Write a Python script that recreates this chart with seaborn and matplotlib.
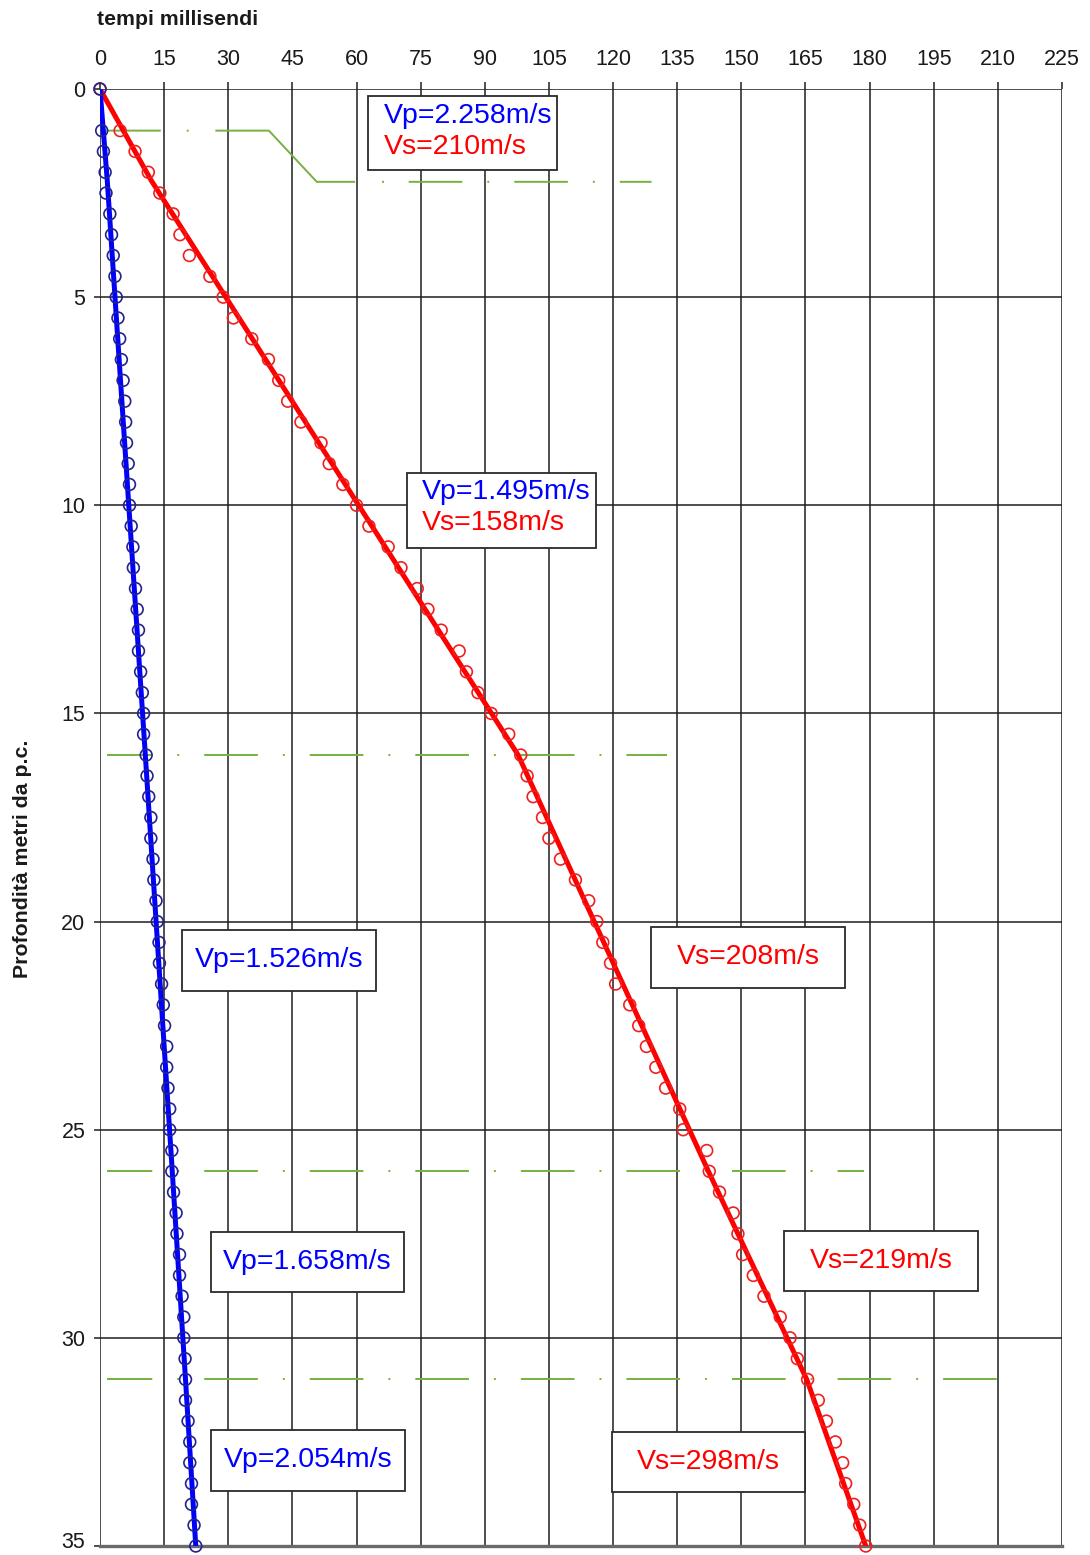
import matplotlib
matplotlib.use("Agg")
import matplotlib.pyplot as plt
from matplotlib.patches import Rectangle
from matplotlib.transforms import ScaledTranslation
import pandas as pd
import seaborn as sns

# ---- measured first-arrival times (down-hole test) ----
depth_m = [0.0, 1.0, 1.5, 2.0, 2.5, 3.0, 3.5, 4.0, 4.5, 5.0, 5.5, 6.0, 6.5, 7.0,
           7.5, 8.0, 8.5, 9.0, 9.5, 10.0, 10.5, 11.0, 11.5, 12.0, 12.5, 13.0,
           13.5, 14.0, 14.5, 15.0, 15.5, 16.0, 16.5, 17.0, 17.5, 18.0, 18.5,
           19.0, 19.5, 20.0, 20.5, 21.0, 21.5, 22.0, 22.5, 23.0, 23.5, 24.0,
           24.5, 25.0, 25.5, 26.0, 26.5, 27.0, 27.5, 28.0, 28.5, 29.0, 29.5,
           30.0, 30.5, 31.0, 31.5, 32.0, 32.5, 33.0, 33.5, 34.0, 34.5, 35.0]

t_p_ms = [0.0, 0.4, 0.8, 1.2, 1.4, 2.3, 2.7, 3.1, 3.5, 3.8, 4.2, 4.6, 5.0, 5.4,
          5.8, 6.0, 6.2, 6.6, 6.9, 6.9, 7.3, 7.7, 7.8, 8.3, 8.7, 9.0, 9.0, 9.5,
          9.9, 10.2, 10.2, 10.8, 11.0, 11.4, 11.9, 11.9, 12.4, 12.6, 13.1,
          13.4, 13.8, 13.9, 14.4, 14.8, 15.1, 15.6, 15.6, 15.9, 16.3, 16.3,
          16.8, 16.8, 17.2, 17.8, 18.0, 18.6, 18.6, 19.2, 19.6, 19.6, 19.9,
          20.0, 20.0, 20.6, 21.0, 21.0, 21.4, 21.4, 22.0, 22.4]

t_s_ms = [0.0, 4.7, 8.2, 11.3, 14.0, 17.1, 18.7, 20.9, 25.7, 28.8, 31.2, 35.5,
          39.4, 41.8, 43.9, 47.0, 51.7, 53.6, 56.8, 60.0, 62.9, 67.4, 70.4,
          74.2, 76.7, 79.8, 84.0, 85.7, 88.4, 91.5, 95.6, 98.4, 99.9, 101.3,
          103.5, 105.0, 107.7, 111.2, 114.3, 116.2, 117.6, 119.4, 120.6, 123.9,
          126.0, 127.8, 130.0, 132.3, 135.6, 136.4, 141.9, 142.5, 144.9, 148.1,
          149.2, 150.3, 152.8, 155.3, 159.1, 161.4, 163.1, 165.5, 168.0, 169.9,
          172.0, 173.7, 174.4, 176.3, 177.7, 179.1]

# ---- layered model: interpreted travel-time curves ----
layer_bounds_m = [0.0, 2.2, 16.0, 26.0, 31.0, 35.0]
fit_tp_ms = [0.0, 1.7, 10.6, 16.9, 20.0, 22.4]
fit_ts_ms = [0.0, 12.0, 97.8, 142.3, 165.3, 179.1]
vp_m_s = [2258, 1495, 1526, 1658, 2054]
vs_m_s = [210, 158, 208, 219, 298]

# interpreted layer boundaries (time extent, depth)
top_bound_t = [0.8, 39.5, 50.7, 129.0]
top_bound_z = [1.0, 1.0, 2.23, 2.23]
bound_z = [16.0, 26.0, 31.0]
bound_t0 = [1.7, 1.7, 1.6]
bound_t1 = [132.6, 178.7, 211.9]

x_ticks = [0, 15, 30, 45, 60, 75, 90, 105, 120, 135, 150, 165, 180, 195, 210, 225]
y_ticks = [0, 5, 10, 15, 20, 25, 30, 35]


def it_thousands(v):
    return f"{v:,}".replace(",", ".")


sns.set_theme(style="white")
plt.rcParams["font.family"] = ["Liberation Sans", "DejaVu Sans"]
plt.rcParams["lines.scale_dashes"] = False

W, H = 1090, 1555
fig = plt.figure(figsize=(W / 100, H / 100), dpi=100)
ax = fig.add_axes([100 / W, 1 - 1546 / H, 962 / W, 1457 / H])

GRID = "#1e1e1e"
RED = "#ff0000"
BLUE = "#0000ff"
GREEN = "#76b13f"

ax.grid(True, color=GRID, linewidth=1.1, zorder=0)
ax.set_axisbelow(True)
for side in ("top", "left", "right"):
    ax.spines[side].set_visible(False)
ax.spines["bottom"].set_color("#6a6a6a")
ax.spines["bottom"].set_linewidth(2.4)

# layer boundaries
pattern = (38.6, 18.0, 1.4, 18.0)
ax.plot(top_bound_t, top_bound_z, color=GREEN, lw=1.4, zorder=2,
        linestyle=(0, (41.3, 18.7, 1.4, 19.2, 116.6, 19.4, 1.4, 17.8,
                       38.6, 18.0, 1.4, 18.0, 38.6, 18.0, 1.4, 18.0,
                       38.6, 18.0, 1.4, 18.0, 60.0, 300.0)))
for z, t0, t1 in zip(bound_z, bound_t0, bound_t1):
    ax.plot([t0, t1], [z, z], color=GREEN, lw=1.4, zorder=2,
            linestyle=(6.0, pattern))

# interpreted travel-time curves
fit = pd.DataFrame({"depth": layer_bounds_m, "tp": fit_tp_ms, "ts": fit_ts_ms})
sns.lineplot(data=fit, x="ts", y="depth", sort=False, color=RED, lw=3.6,
             ax=ax, zorder=4)
sns.lineplot(data=fit, x="tp", y="depth", sort=False, color=BLUE, lw=3.6,
             ax=ax, zorder=4)

# measured picks
obs = pd.DataFrame({"depth": depth_m, "tp": t_p_ms, "ts": t_s_ms})
sns.scatterplot(data=obs, x="ts", y="depth", marker="o", s=72,
                color="#f02020", facecolor="none", edgecolor="#f02020",
                linewidth=1.2, ax=ax, zorder=5, clip_on=False)
sns.scatterplot(data=obs, x="tp", y="depth", marker="o", s=72,
                color="#23238a", facecolor="none", edgecolor="#23238a",
                linewidth=1.2, ax=ax, zorder=5, clip_on=False)

ax.set_xlim(0, 225)
ax.set_ylim(35, 0)
ax.set_xticks(x_ticks)
ax.set_yticks(y_ticks)
ax.xaxis.tick_top()
ax.tick_params(axis="x", which="major", top=True, bottom=False, length=5,
               width=1.1, color=GRID, pad=9, labelsize=15.5, labelcolor="#1a1a1a")
ax.tick_params(axis="y", which="major", left=True, length=4.5, width=1.1,
               color=GRID, pad=6, labelsize=15.5, labelcolor="#1a1a1a")

# velocity boxes
TXT = 20.5


def box(x0, x1, z0, z1):
    ax.add_patch(Rectangle((x0, z0), x1 - x0, z1 - z0, facecolor="white",
                           edgecolor="#2a2a2a", lw=1.3, zorder=3))


box(62.7, 106.8, 0.16, 1.95)
ax.text(66.5, 0.66, f"Vp={it_thousands(vp_m_s[0])}m/s", color=BLUE,
        fontsize=TXT, va="center", ha="left", zorder=6)
ax.text(66.5, 1.39, f"Vs={vs_m_s[0]}m/s", color=RED,
        fontsize=TXT, va="center", ha="left", zorder=6)

box(71.8, 116.1, 9.22, 11.02)
ax.text(75.2, 9.68, f"Vp={it_thousands(vp_m_s[1])}m/s", color=BLUE,
        fontsize=TXT, va="center", ha="left", zorder=6)
ax.text(75.2, 10.42, f"Vs={vs_m_s[1]}m/s", color=RED,
        fontsize=TXT, va="center", ha="left", zorder=6)

single_boxes = [
    (19.1, 64.6, 20.20, 21.67, f"Vp={it_thousands(vp_m_s[2])}m/s", BLUE),
    (128.9, 174.3, 20.12, 21.59, f"Vs={vs_m_s[2]}m/s", RED),
    (26.0, 71.1, 27.45, 28.89, f"Vp={it_thousands(vp_m_s[3])}m/s", BLUE),
    (160.0, 205.3, 27.43, 28.87, f"Vs={vs_m_s[3]}m/s", RED),
    (26.0, 71.4, 32.21, 33.67, f"Vp={it_thousands(vp_m_s[4])}m/s", BLUE),
    (119.8, 164.9, 32.25, 33.70, f"Vs={vs_m_s[4]}m/s", RED),
]
for x0, x1, z0, z1, label, col in single_boxes:
    box(x0, x1, z0, z1)
    ax.text((x0 + x1) / 2, (z0 + z1) / 2, label, color=col, fontsize=TXT,
            va="center", ha="center", zorder=6)

ax.set_xlabel("tempi millisendi", fontsize=15.3, fontweight="bold",
              color="#1a1a1a")
ax.xaxis.set_label_position("top")
ax.xaxis.label.set_ha("left")
ax.xaxis.label.set_va("center")
ax.xaxis.set_label_coords(-0.003, 1.0474)
ax.set_ylabel("Profondità metri da p.c.", fontsize=15.3, fontweight="bold",
              color="#1a1a1a")
ax.yaxis.label.set_va("center")
ax.yaxis.set_label_coords(-0.081, 0.4715)

# keep the deepest tick label inside the canvas
last = ax.get_yticklabels()[-1]
last.set_transform(last.get_transform()
                   + ScaledTranslation(0, 4 / 72, fig.dpi_scale_trans))

fig.savefig("out.png", dpi=100, facecolor="white")
